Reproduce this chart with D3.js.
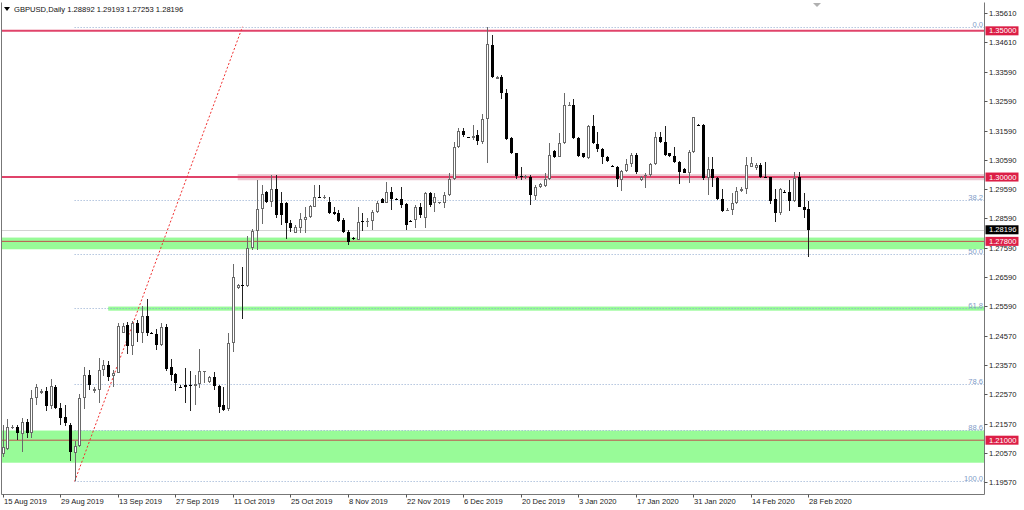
<!DOCTYPE html>
<html><head><meta charset="utf-8">
<script src="https://cdn.jsdelivr.net/npm/d3@7"></script>
<style>body{margin:0;background:#fff}svg{display:block;font-family:"Liberation Sans",Arial,sans-serif}</style>
</head><body><svg id="c" width="1024" height="510"></svg>
<script>
const symbolName = "GBPUSD,Daily";
const open = [1.2053,1.2069,1.2144,1.2144,1.2121,1.2163,1.2125,1.2246,1.2260,1.2269,1.2217,1.2283,1.2209,1.2178,1.2152,1.2057,1.2080,1.2246,1.2323,1.2268,1.2272,1.2340,1.2356,1.2320,1.2331,1.2468,1.2495,1.2422,1.2500,1.2468,1.2525,1.2467,1.2463,1.2427,1.2488,1.2349,1.2325,1.2283,1.2288,1.2289,1.2285,1.2292,1.2334,1.2298,1.2315,1.2285,1.2219,1.2206,1.2433,1.2620,1.2631,1.2627,1.2757,1.2814,1.2890,1.2949,1.2916,1.2960,1.2910,1.2910,1.2844,1.2810,1.2825,1.2853,1.2862,1.2899,1.2931,1.2927,1.2916,1.2881,1.2876,1.2853,1.2813,1.2793,1.2785,1.2850,1.2849,1.2850,1.2881,1.2924,1.2912,1.2950,1.2924,1.2924,1.2908,1.2850,1.2853,1.2899,1.2859,1.2947,1.2910,1.2912,1.2910,1.2939,1.2992,1.3102,1.3158,1.3136,1.3133,1.3143,1.3121,1.3198,1.3452,1.3336,1.3343,1.3286,1.3133,1.3081,1.3002,1.3001,1.3001,1.2935,1.2967,1.2969,1.2992,1.3090,1.3070,1.3115,1.3246,1.3246,1.3133,1.3081,1.3064,1.3175,1.3113,1.3095,1.3070,1.3038,1.3035,1.2990,1.3022,1.3045,1.3075,1.2990,1.3007,1.3007,1.3045,1.3136,1.3121,1.3081,1.3072,1.3053,1.3026,1.3015,1.3087,1.3178,1.3178,1.2996,1.3027,1.2996,1.2924,1.2887,1.2887,1.2910,1.2953,1.2958,1.3035,1.3030,1.3041,1.2999,1.2999,1.2924,1.2876,1.2950,1.2950,1.2919,1.2999,1.2899,1.28892];
const high = [1.2152,1.2173,1.2152,1.2152,1.2175,1.2171,1.2272,1.2291,1.2275,1.2283,1.2308,1.2289,1.2226,1.2220,1.2160,1.2098,1.2258,1.2349,1.2340,1.2283,1.2380,1.2374,1.2372,1.2340,1.2500,1.2500,1.2504,1.2509,1.2511,1.2559,1.2582,1.2470,1.2479,1.2502,1.2497,1.2378,1.2329,1.2289,1.2346,1.2338,1.2323,1.2411,1.2337,1.2320,1.2334,1.2289,1.2283,1.2466,1.2703,1.2634,1.2691,1.2798,1.2822,1.2990,1.2973,1.2952,1.3008,1.3008,1.2950,1.2916,1.2853,1.2836,1.2876,1.2899,1.2904,1.2973,1.2973,1.2939,1.2933,1.2899,1.2887,1.2859,1.2819,1.2795,1.2899,1.2876,1.2859,1.2887,1.2919,1.2930,1.2984,1.2967,1.2927,1.2967,1.2910,1.2853,1.2904,1.2910,1.2950,1.2950,1.2944,1.2915,1.2950,1.3013,1.3121,1.3167,1.3167,1.3138,1.3178,1.3161,1.3216,1.3514,1.3486,1.3346,1.3349,1.3300,1.3136,1.3083,1.3033,1.3007,1.3007,1.2973,1.2981,1.3013,1.3117,1.3092,1.3150,1.3288,1.3258,1.3266,1.3136,1.3083,1.3178,1.3212,1.3155,1.3098,1.3072,1.3041,1.3038,1.3024,1.3061,1.3083,1.3081,1.3004,1.3015,1.3047,1.3155,1.3155,1.3175,1.3083,1.3104,1.3056,1.3030,1.3092,1.3206,1.3181,1.3181,1.3068,1.3068,1.2999,1.2958,1.2893,1.2944,1.2965,1.2965,1.3070,1.3068,1.3047,1.3047,1.3052,1.3001,1.2958,1.2962,1.2956,1.2990,1.3018,1.3018,1.2944,1.29193];
const low = [1.2043,1.2065,1.2138,1.2100,1.2060,1.2107,1.2107,1.2220,1.2258,1.2201,1.2206,1.2206,1.2152,1.2149,1.2030,1.1959,1.2078,1.2206,1.2272,1.2262,1.2228,1.2320,1.2303,1.2281,1.2329,1.2466,1.2395,1.2390,1.2437,1.2434,1.2456,1.2462,1.2409,1.2422,1.2338,1.2301,1.2269,1.2279,1.2226,1.2201,1.2220,1.2278,1.2295,1.2296,1.2272,1.2192,1.2201,1.2201,1.2403,1.2617,1.2513,1.2625,1.2750,1.2750,1.2838,1.2911,1.2897,1.2859,1.2836,1.2787,1.2813,1.2808,1.2808,1.2808,1.2860,1.2897,1.2927,1.2925,1.2874,1.2870,1.2847,1.2808,1.2768,1.2785,1.2783,1.2817,1.2830,1.2819,1.2876,1.2910,1.2910,1.2887,1.2921,1.2893,1.2819,1.2846,1.2825,1.2859,1.2825,1.2899,1.2881,1.2909,1.2893,1.2935,1.2990,1.3098,1.3138,1.3133,1.3127,1.3110,1.3113,1.3049,1.3338,1.3335,1.3266,1.3127,1.3079,1.2993,1.2990,1.2993,1.2904,1.2921,1.2962,1.2967,1.2990,1.3064,1.3068,1.3113,1.3243,1.3129,1.3068,1.3064,1.3061,1.3113,1.3087,1.3045,1.3053,1.3033,1.2967,1.2953,1.3018,1.3035,1.3010,1.2987,1.2962,1.3001,1.3041,1.3117,1.3072,1.3070,1.3049,1.2976,1.3013,1.2979,1.3083,1.3175,1.2990,1.2939,1.2965,1.2921,1.2882,1.2884,1.2870,1.2908,1.2950,1.2942,1.3033,1.3024,1.2996,1.2996,1.2908,1.2847,1.2870,1.2944,1.2885,1.2916,1.2897,1.2859,1.27253];
const close = [1.2077,1.2144,1.2145,1.2123,1.2163,1.2125,1.2246,1.2283,1.2269,1.2217,1.2285,1.2209,1.2176,1.2160,1.2060,1.2080,1.2246,1.2323,1.2289,1.2276,1.2340,1.2356,1.2317,1.2331,1.2491,1.2491,1.2422,1.2500,1.2468,1.2525,1.2468,1.2465,1.2427,1.2488,1.2344,1.2324,1.2295,1.2282,1.2283,1.2288,1.2292,1.2336,1.2335,1.2317,1.2285,1.2215,1.2203,1.2433,1.2659,1.2631,1.2627,1.2757,1.2814,1.2890,1.2942,1.2916,1.2960,1.2869,1.2870,1.2842,1.2825,1.2830,1.2856,1.2862,1.2901,1.2931,1.2930,1.2933,1.2878,1.2874,1.2851,1.2813,1.2779,1.2788,1.2847,1.2849,1.2850,1.2881,1.2910,1.2912,1.2950,1.2924,1.2923,1.2904,1.2836,1.2849,1.2899,1.2870,1.2947,1.2904,1.2933,1.2913,1.2939,1.2992,1.3102,1.3158,1.3144,1.3135,1.3140,1.3124,1.3198,1.3454,1.3343,1.3343,1.3288,1.3129,1.3081,1.3004,1.3001,1.3002,1.2939,1.2967,1.2976,1.2992,1.3075,1.3068,1.3117,1.3246,1.3247,1.3133,1.3072,1.3068,1.3175,1.3115,1.3095,1.3068,1.3056,1.3037,1.2992,1.3022,1.3045,1.3075,1.3018,1.3001,1.3008,1.3045,1.3136,1.3121,1.3075,1.3072,1.3053,1.3018,1.3015,1.3087,1.3204,1.3177,1.2996,1.3027,1.2996,1.2924,1.2885,1.2888,1.2912,1.2953,1.2958,1.3041,1.3047,1.3041,1.2999,1.2998,1.2919,1.2876,1.2958,1.2949,1.2919,1.2996,1.2899,1.2887,1.28196];
const dateLabels = ["15 Aug 2019","29 Aug 2019","13 Sep 2019","27 Sep 2019","11 Oct 2019","25 Oct 2019","8 Nov 2019","22 Nov 2019","6 Dec 2019","20 Dec 2019","3 Jan 2020","17 Jan 2020","31 Jan 2020","14 Feb 2020","28 Feb 2020"];
const dateIndex = [0,12,24,36,48,60,72,84,96,108,120,132,144,156,168];
const priceTicks = [1.35610,1.34610,1.33590,1.32590,1.31590,1.30590,1.29590,1.28590,1.27590,1.26590,1.25590,1.24570,1.23570,1.22570,1.21570,1.20570,1.19570];
const fibHigh = 1.3514, fibLow = 1.1959, fibFrom = 15, fibTo = 50;
const fibLevels = [0, 38.2, 50, 61.8, 78.6, 88.6, 100];
const fibLabels = ["0.0","38.2","50.0","61.8","78.6","88.6","100.0"];
const zoneLo = [1.2753, 1.2543, 1.2023];
const zoneHi = [1.2793, 1.2557, 1.2133];
const zoneFrom = [0, 22, 0];
const bandLo = 1.2989, bandHi = 1.3010, bandFrom = 49;
const redLevels = [1.35000, 1.30000, 1.27800, 1.21000];
const redWidths = [2, 2, 1, 1];
const lastPrice = 1.28196;

const svg = d3.select("#c");
const L = 2, R = 984.5, T = 2.5, B = 494.5;
const x = d3.scaleLinear().domain([0, 168]).range([2.7, 808.4]);
const y = d3.scaleLinear().domain([1.19160, 1.35969]).range([494, 2.5]);
const fmt = d3.format(".5f");

const plot = svg.append("g");
plot.append("rect").attr("x", L).attr("y", T).attr("width", R - L).attr("height", B - T).attr("fill", "#fff");
const clip = svg.append("clipPath").attr("id", "pc").append("rect").attr("x", L).attr("y", T).attr("width", R - L).attr("height", B - T);
const g = svg.append("g").attr("clip-path", "url(#pc)");

// zones
zoneLo.forEach((lo, k) => {
  const x0 = zoneFrom[k] === 0 ? L : x(zoneFrom[k]);
  g.append("rect").attr("x", x0).attr("width", R - x0)
    .attr("y", y(zoneHi[k])).attr("height", y(zoneLo[k]) - y(zoneHi[k]))
    .attr("fill", "#98fb98");
});
// pink band at 1.30
g.append("rect").attr("x", x(bandFrom)).attr("width", R - x(bandFrom))
  .attr("y", y(bandHi)).attr("height", y(bandLo) - y(bandHi)).attr("fill", "#ecc8d2");

// current price line
g.append("line").attr("x1", L).attr("x2", R).attr("y1", Math.round(y(lastPrice)) + 0.5).attr("y2", Math.round(y(lastPrice)) + 0.5)
  .attr("stroke", "#d4d4d4").attr("stroke-width", 1);

// fib levels
fibLevels.forEach((lv, k) => {
  const p = fibHigh - (fibHigh - fibLow) * lv / 100;
  const yy = Math.round(y(p)) + 0.5;
  g.append("line").attr("x1", x(fibFrom)).attr("x2", R).attr("y1", yy).attr("y2", yy)
    .attr("stroke", "#8fa9cf").attr("stroke-width", 1).attr("stroke-dasharray", "1,2");
  g.append("text").attr("x", 983).attr("y", yy - 1).attr("text-anchor", "end")
    .attr("font-size", "7.6px").attr("fill", "#7f9cc8").text(fibLabels[k]);
});

// red levels
redLevels.forEach((p, k) => {
  g.append("line").attr("x1", L).attr("x2", R).attr("y1", y(p)).attr("y2", y(p))
    .attr("stroke", k < 2 ? "#e0436a" : "#c0504d").attr("stroke-width", redWidths[k]);
});

// fib diagonal
g.append("line").attr("x1", x(fibFrom)).attr("y1", y(fibLow)).attr("x2", x(fibTo)).attr("y2", y(fibHigh))
  .attr("stroke", "#f03030").attr("stroke-width", 1).attr("stroke-dasharray", "2,2");

// candles
const idx = d3.range(open.length);
const cg = g.append("g").attr("shape-rendering", "crispEdges");
idx.forEach(i => {
  const r = Math.round(x(i));
  const bull = close[i] >= open[i];
  const col = bull ? "#6a6a6a" : "#222";
  cg.append("line").attr("x1", r + 0.5).attr("x2", r + 0.5)
    .attr("y1", y(high[i])).attr("y2", y(low[i])).attr("stroke", col).attr("stroke-width", 1);
  const yt = Math.round(y(Math.max(open[i], close[i])));
  const yb = Math.round(y(Math.min(open[i], close[i])));
  if (yb - yt < 2) {
    cg.append("rect").attr("x", r - 1).attr("width", 3).attr("y", yt).attr("height", Math.max(1, yb - yt))
      .attr("fill", bull ? "#6a6a6a" : "#000");
  } else if (bull) {
    cg.append("rect").attr("x", r - 0.5).attr("width", 2).attr("y", yt + 0.5).attr("height", yb - yt - 1)
      .attr("fill", "#fff").attr("stroke", "#6a6a6a").attr("stroke-width", 1);
  } else {
    cg.append("rect").attr("x", r - 1).attr("width", 3).attr("y", yt).attr("height", yb - yt).attr("fill", "#000");
  }
});

// frame
const fr = svg.append("g").attr("stroke", "#777").attr("stroke-width", 1).attr("fill", "none");
fr.append("line").attr("x1", 1.5).attr("x2", 1.5).attr("y1", T).attr("y2", B);
fr.append("line").attr("x1", 1.5).attr("x2", R).attr("y1", B).attr("y2", B);
fr.append("line").attr("x1", R).attr("x2", R).attr("y1", T).attr("y2", B);

// right axis
const ax = svg.append("g").attr("font-size", "7.6px").attr("fill", "#222");
priceTicks.forEach(p => {
  const yy = Math.round(y(p)) + 0.5;
  ax.append("line").attr("x1", R).attr("x2", R + 3).attr("y1", yy).attr("y2", yy).attr("stroke", "#555");
  ax.append("text").attr("x", 989).attr("y", yy).attr("dy", "0.35em").text(fmt(p));
});
// price labels
function priceTag(p, bg) {
  const yy = y(p);
  ax.append("rect").attr("x", 985.5).attr("y", yy - 4.5).attr("width", 33).attr("height", 9).attr("fill", bg);
  ax.append("text").attr("x", 989).attr("y", yy).attr("dy", "0.35em").attr("fill", "#fff").text(fmt(p));
}
redLevels.forEach(p => priceTag(p, "#dc1e46"));
priceTag(lastPrice, "#000");

// bottom axis
const bx = svg.append("g").attr("font-size", "7.6px").attr("fill", "#222");
dateIndex.forEach((di, k) => {
  const xx = Math.round(x(di)) + 0.5;
  bx.append("line").attr("x1", xx).attr("x2", xx).attr("y1", B).attr("y2", B + 3).attr("stroke", "#555");
  bx.append("text").attr("x", xx + 0.5).attr("y", 504).text(dateLabels[k]);
});

// title
svg.append("path").attr("d", "M4,7 L10,7 L7,11 Z").attr("fill", "#000");
svg.append("text").attr("x", 14).attr("y", 12).attr("font-size", "7.6px").attr("fill", "#111")
  .text(symbolName + "  " + [open[168], high[168], low[168], close[168]].map(fmt).join(" "));
// chart shift marker
svg.append("path").attr("d", "M813,3 L821,3 L817,7 Z").attr("fill", "#b0b0b0");
</script></body></html>
